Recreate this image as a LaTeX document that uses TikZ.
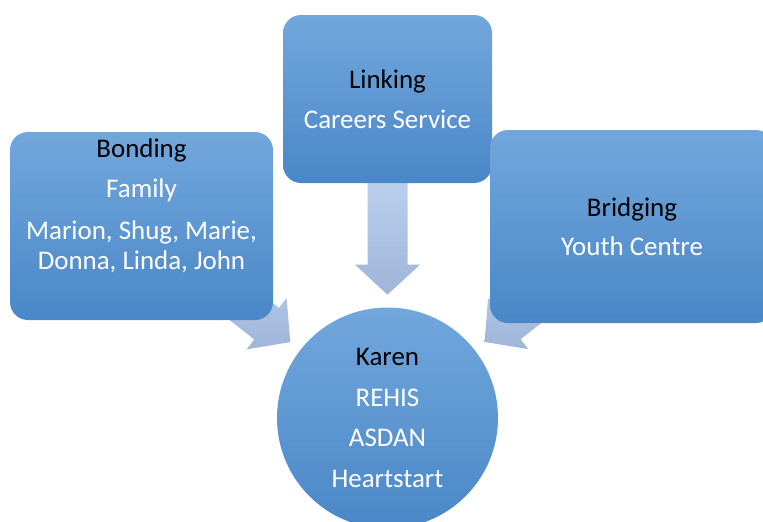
\documentclass[tikz,border=0pt]{standalone}
\usepackage{fontspec}
\setmainfont{Carlito}
\usetikzlibrary{shapes,calc,positioning}
\pgfdeclarelayer{background}
\pgfsetlayers{background,main}
\definecolor{boxtop}{HTML}{72A7DC}
\definecolor{boxbot}{HTML}{4A87C8}
\definecolor{arrtop}{HTML}{BBD1EE}
\definecolor{arrbot}{HTML}{9FB5D9}

% block arrow from node #1 towards node #2
\newcommand{\blockarrow}[2]{%
  \coordinate (arrtip) at ($(#2.center)!92.5pt!(#1.center)$);
  \coordinate (arrtail) at ($(#2.center)!182pt!(#1.center)$);
  \coordinate (arrbase) at ($(arrtip)!22.5pt!(arrtail)$);
  \path[top color=arrtop, bottom color=arrbot] (arrtip)
    -- ($(arrbase)!24.4pt!90:(arrtip)$) -- ($(arrbase)!15pt!90:(arrtip)$)
    -- ($(arrtail)!15pt!90:(arrtip)$) -- ($(arrtail)!15pt!-90:(arrtip)$)
    -- ($(arrbase)!15pt!-90:(arrtip)$) -- ($(arrbase)!24.4pt!-90:(arrtip)$)
    -- cycle;
}

\begin{document}
\begin{tikzpicture}[x=0.75pt, y=-0.75pt, font=\fontsize{20.2}{22.5}\selectfont]
        \tikzstyle{box}=[rounded corners=13.5pt, top color=boxtop, bottom color=boxbot, text=white, align=center, inner sep=0pt]
        \tikzstyle{hub}=[circle, top color=boxtop, bottom color=boxbot, text=white, align=center, inner sep=0pt, minimum size=165.75pt]
        \useasboundingbox (0,0) rectangle (763,521);
        \clip (0,0) rectangle (763,521);
        \node[box, minimum width=197.25pt, minimum height=141pt]  (bond)   at (141.5,226) {};
        \node[text=white, align=center] (bondtext) at ([yshift=15pt]bond.center)
            {\textcolor{black}{Bonding}\\[7.5pt]Family\\[9pt]Marion, Shug, Marie,\\Donna, Linda, John};
        \node[box, minimum width=156.75pt, minimum height=126pt]  (link)   at (387.5,99)
            {\textcolor{black}{Linking}\\[7.5pt]Careers Service};
        \node[box, minimum width=213pt, minimum height=144.75pt]  (bridge) at (632,226.5)
            {\textcolor{black}{Bridging}\\[7pt]Youth Centre};
        \node[hub] (karen) at (387.5,418)
            {\textcolor{black}{Karen}\\[8pt]REHIS\\[8pt]ASDAN\\[8pt]Heartstart};
        \begin{pgfonlayer}{background}
        \blockarrow{bond}{karen}
        \blockarrow{link}{karen}
        \blockarrow{bridge}{karen}
        \end{pgfonlayer}
\end{tikzpicture}
\end{document}
